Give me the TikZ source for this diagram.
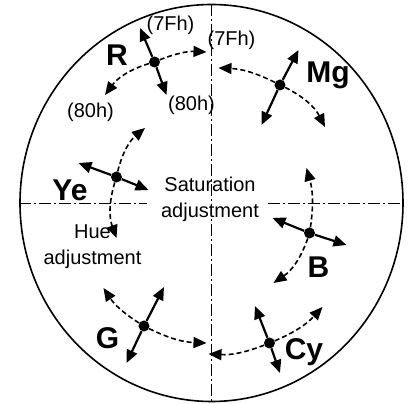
\documentclass[tikz,border=0pt]{standalone}
\usepackage{fontspec}
\setmainfont{Liberation Sans}
\usetikzlibrary{arrows.meta, shapes.geometric}

\begin{document}
\begin{tikzpicture}[
    x=1pt, y=1pt,
    rim/.style={ellipse, draw, line width=1.6pt, minimum width=383pt, minimum height=397pt, inner sep=0pt},
    axis/.style={line width=0.8pt, dash pattern=on 12pt off 3pt on 2pt off 3pt},
    dot/.style={circle, fill, inner sep=0pt, minimum size=11pt},
    satarrow/.style={-{Triangle[length=13pt, width=11pt]}, line width=2.2pt},
    huearrow/.style={-{Triangle[length=13pt, width=11pt]}, line width=1.6pt, dash pattern=on 5pt off 3pt},
    colour/.style={font=\fontsize{30}{30}\selectfont\bfseries, inner sep=0pt},
    code/.style={font=\fontsize{20}{20}\selectfont, inner sep=0pt},
    caption/.style={font=\fontsize{20}{26}\selectfont, align=center, inner sep=0pt}
]
    \useasboundingbox (-211.5,-201) rectangle (196.5,203);

    % outline and centre lines
    \node[rim] (disc) at (0,0) {};
    \coordinate (gapl) at (-64.5,0);
    \coordinate (gapr) at (56.5,0);
    \draw[axis] (disc.north) -- (disc.south);
    \draw[axis] (disc.west) -- (gapl);
    \draw[axis] (gapr) -- (disc.east);

    \node[caption] (satlabel) at (-1.5,4) {Saturation\\adjustment};
    \node[caption] (huelabel) at (-119,-44) {Hue\\adjustment};

    % colour points
    \node[dot] (R)  at (-57,141) {};
    \node[dot] (Mg) at (68.5,118) {};
    \node[dot] (Ye) at (-95,26) {};
    \node[dot] (B)  at (98,-30) {};
    \node[dot] (G)  at (-67.5,-123) {};
    \node[dot] (Cy) at (58,-140) {};

    \node[colour] (lR)  at (-94.5,148) {R};
    \node[colour] (lMg) at (116.5,128) {Mg};
    \node[colour] (lYe) at (-141.5,13) {Ye};
    \node[colour] (lB)  at (107,-64) {B};
    \node[colour] (lG)  at (-104,-135) {G};
    \node[colour] (lCy) at (92.5,-149) {Cy};

    \node[code] (c7Fa) at (-41,178) {(7Fh)};
    \node[code] (c7Fb) at (20,163) {(7Fh)};
    \node[code] (c80a) at (-121,91) {(80h)};
    \node[code] (c80b) at (-20,98) {(80h)};

    % arrow ends
    \coordinate (R-o) at (-71.5,175);   \coordinate (R-i) at (-45,108);
    \coordinate (R-l) at (-106.5,108);  \coordinate (R-r) at (-5,151);
    \coordinate (Mg-o) at (87,153);     \coordinate (Mg-i) at (50,78);
    \coordinate (Mg-l) at (7,135);      \coordinate (Mg-r) at (113.5,76);
    \coordinate (Ye-o) at (-133,40);    \coordinate (Ye-i) at (-63,13);
    \coordinate (Ye-l) at (-66.5,75);   \coordinate (Ye-r) at (-95,-35);
    \coordinate (B-o) at (135,-42);     \coordinate (B-i) at (61,-15);
    \coordinate (B-l) at (95,35);       \coordinate (B-r) at (62,-80);
    \coordinate (G-o) at (-85,-160);    \coordinate (G-i) at (-47.5,-84);
    \coordinate (G-l) at (-108,-85);    \coordinate (G-r) at (-5,-140);
    \coordinate (Cy-o) at (68.5,-170);  \coordinate (Cy-i) at (43.5,-103);
    \coordinate (Cy-l) at (111,-104);   \coordinate (Cy-r) at (-3,-151);

    % saturation
    \draw[satarrow] (R) -- (R-o);   \draw[satarrow] (R) -- (R-i);
    \draw[satarrow] (Mg) -- (Mg-o); \draw[satarrow] (Mg) -- (Mg-i);
    \draw[satarrow] (Ye) -- (Ye-o); \draw[satarrow] (Ye) -- (Ye-i);
    \draw[satarrow] (B) -- (B-o);   \draw[satarrow] (B) -- (B-i);
    \draw[satarrow] (G) -- (G-o);   \draw[satarrow] (G) -- (G-i);
    \draw[satarrow] (Cy) -- (Cy-o); \draw[satarrow] (Cy) -- (Cy-i);

    % hue
    \draw[huearrow] (R) to[bend right=18] (R-l);
    \draw[huearrow] (R) to[bend left=12] (R-r);
    \draw[huearrow] (Mg) to[bend right=12] (Mg-l);
    \draw[huearrow] (Mg) to[bend left=18] (Mg-r);
    \draw[huearrow] (Ye) to[bend left=18] (Ye-l);
    \draw[huearrow] (Ye) to[bend right=18] (Ye-r);
    \draw[huearrow] (B) to[bend right=12] (B-l);
    \draw[huearrow] (B) to[bend left=18] (B-r);
    \draw[huearrow] (G) to[bend left=12] (G-l);
    \draw[huearrow] (G) to[bend right=12] (G-r);
    \draw[huearrow] (Cy) to[bend right=12] (Cy-l);
    \draw[huearrow] (Cy) to[bend left=12] (Cy-r);
\end{tikzpicture}
\end{document}
